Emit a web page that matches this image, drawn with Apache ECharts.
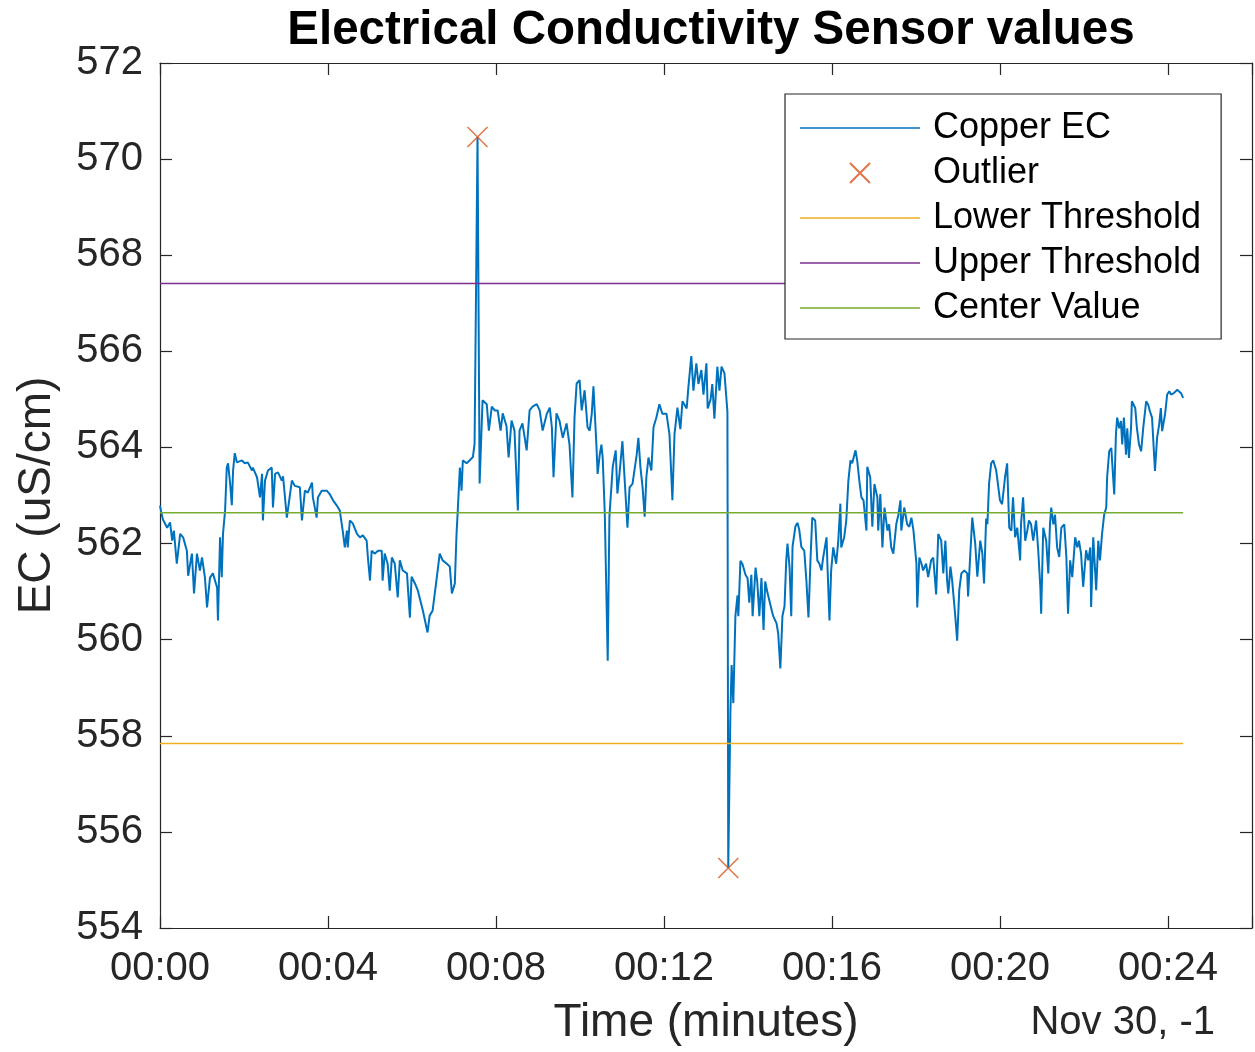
<!DOCTYPE html>
<html>
<head>
<meta charset="utf-8">
<script src="https://cdn.jsdelivr.net/npm/echarts@6/dist/echarts.min.js"></script>
<style>
html,body{margin:0;padding:0;background:#fff;}
#chart{width:1255px;height:1052px;}
</style>
</head>
<body>
<div id="chart"></div>
<script>
// ---- data (time in minutes, EC in uS/cm) ----
const times = [0.00,0.03,0.07,0.17,0.24,0.29,0.33,0.40,0.48,0.55,0.64,0.67,0.76,0.81,0.88,0.95,1.00,1.07,1.12,1.19,1.26,1.36,1.38,1.43,1.47,1.50,1.55,1.59,1.62,1.67,1.71,1.74,1.78,1.83,1.86,1.95,2.02,2.09,2.19,2.21,2.31,2.38,2.43,2.45,2.50,2.57,2.66,2.69,2.74,2.81,2.90,2.93,3.02,3.14,3.21,3.33,3.38,3.45,3.52,3.62,3.64,3.73,3.76,3.85,3.97,4.04,4.12,4.21,4.28,4.35,4.40,4.45,4.47,4.52,4.59,4.69,4.76,4.83,4.92,4.95,5.00,5.04,5.11,5.19,5.28,5.30,5.35,5.42,5.47,5.52,5.59,5.66,5.71,5.78,5.88,5.95,5.99,6.07,6.14,6.26,6.37,6.42,6.49,6.59,6.66,6.73,6.83,6.90,6.95,7.02,7.06,7.09,7.14,7.18,7.21,7.30,7.37,7.45,7.49,7.56,7.61,7.68,7.78,7.83,7.90,7.97,8.04,8.11,8.16,8.25,8.30,8.37,8.44,8.52,8.56,8.63,8.73,8.80,8.87,8.97,9.04,9.11,9.21,9.28,9.33,9.37,9.44,9.51,9.59,9.68,9.75,9.82,9.87,9.92,9.99,10.04,10.11,10.18,10.23,10.28,10.32,10.39,10.42,10.47,10.51,10.54,10.59,10.66,10.70,10.78,10.85,10.89,10.94,11.01,11.06,11.13,11.18,11.25,11.35,11.39,11.44,11.49,11.54,11.58,11.63,11.70,11.75,11.82,11.89,11.96,12.06,12.13,12.20,12.25,12.32,12.39,12.44,12.54,12.58,12.65,12.70,12.77,12.82,12.89,12.94,13.01,13.04,13.11,13.15,13.20,13.27,13.32,13.37,13.44,13.51,13.53,13.58,13.61,13.65,13.70,13.75,13.77,13.82,13.87,13.94,13.99,14.03,14.08,14.11,14.18,14.22,14.27,14.32,14.37,14.41,14.46,14.56,14.60,14.68,14.72,14.77,14.82,14.87,14.91,14.94,14.99,15.03,15.06,15.13,15.18,15.22,15.27,15.34,15.39,15.44,15.49,15.53,15.60,15.65,15.70,15.75,15.79,15.87,15.89,15.94,15.98,16.03,16.10,16.15,16.20,16.22,16.29,16.34,16.39,16.44,16.48,16.56,16.60,16.65,16.70,16.75,16.82,16.84,16.91,16.96,17.01,17.08,17.10,17.15,17.20,17.25,17.32,17.36,17.41,17.46,17.53,17.58,17.63,17.65,17.72,17.79,17.84,17.89,17.94,18.01,18.03,18.08,18.13,18.17,18.24,18.29,18.36,18.41,18.48,18.53,18.60,18.65,18.70,18.74,18.77,18.82,18.86,18.93,18.98,19.03,19.08,19.15,19.22,19.24,19.31,19.34,19.41,19.46,19.53,19.58,19.62,19.67,19.70,19.74,19.79,19.84,19.91,19.96,20.00,20.05,20.12,20.17,20.22,20.27,20.31,20.36,20.41,20.48,20.50,20.55,20.60,20.65,20.69,20.74,20.79,20.86,20.91,20.96,20.98,21.03,21.10,21.15,21.19,21.22,21.27,21.31,21.36,21.41,21.46,21.53,21.58,21.62,21.67,21.72,21.79,21.84,21.88,21.93,21.98,22.05,22.10,22.15,22.17,22.22,22.29,22.34,22.38,22.43,22.48,22.53,22.55,22.60,22.65,22.67,22.72,22.76,22.79,22.84,22.88,22.91,22.95,23.00,23.03,23.07,23.12,23.14,23.22,23.26,23.31,23.36,23.41,23.48,23.53,23.57,23.62,23.69,23.74,23.79,23.83,23.86,23.93,23.98,24.03,24.07,24.14,24.22,24.26,24.31,24.36];
const ecValues = [562.79,562.65,562.50,562.33,562.44,562.06,562.27,561.58,562.20,562.13,561.85,561.33,561.79,560.96,561.79,561.44,561.71,561.29,560.67,561.29,561.38,561.08,560.40,562.13,561.30,562.20,562.69,563.58,563.67,563.25,562.80,563.52,563.88,563.69,563.67,563.73,563.67,563.69,563.52,563.58,563.38,562.96,563.45,562.48,563.31,563.52,563.58,562.75,563.45,563.48,563.31,563.40,562.54,563.31,563.20,563.17,562.48,563.10,563.06,563.27,562.96,562.54,562.96,563.10,563.10,563.03,562.90,562.79,562.69,562.27,561.92,562.27,561.92,562.48,562.42,562.20,562.13,562.17,562.06,561.71,561.23,561.85,561.79,561.85,561.85,561.23,561.79,561.58,561.02,561.71,561.58,560.88,561.65,561.44,561.38,560.46,561.31,561.17,561.02,560.60,560.15,560.50,560.60,561.29,561.79,561.65,561.58,561.52,560.96,561.17,562.20,562.69,563.58,563.10,563.73,563.67,563.73,563.80,564.08,570.46,563.25,564.98,564.90,564.35,564.85,564.77,564.77,564.35,564.71,564.44,563.79,564.56,564.35,562.69,564.35,564.50,563.94,564.77,564.85,564.90,564.77,564.35,564.70,564.83,564.42,563.38,564.71,564.56,564.20,564.50,564.06,562.96,564.63,565.33,565.40,564.77,565.19,564.42,564.35,564.70,565.27,564.06,563.45,563.85,564.06,563.79,562.63,559.56,562.56,563.60,563.94,563.04,563.45,564.13,563.38,562.33,563.17,563.24,563.85,564.20,563.58,563.17,562.56,563.38,563.79,563.52,564.42,564.63,564.90,564.70,564.70,564.27,562.90,564.27,564.83,564.38,564.96,564.81,565.25,565.90,565.18,565.75,565.32,565.61,565.10,565.75,564.81,565.00,565.32,564.60,565.68,565.18,565.68,565.54,564.74,555.25,558.46,559.47,558.68,560.49,560.92,560.49,561.64,561.57,561.35,561.28,560.77,561.35,560.49,561.50,561.21,560.49,561.28,560.20,561.21,560.99,560.63,560.49,560.34,560.12,559.40,560.49,560.70,561.64,562.00,561.50,560.49,561.93,562.36,562.43,562.29,561.93,561.85,561.23,560.46,561.71,562.54,562.48,561.65,561.58,561.44,561.71,562.13,561.58,560.40,561.44,561.92,561.58,562.06,562.83,561.92,562.13,562.48,563.31,563.73,563.67,563.94,563.73,563.31,562.96,562.90,562.27,563.60,563.38,562.35,563.24,562.96,562.27,563.03,561.92,562.75,562.27,562.40,561.92,561.79,562.40,562.60,562.90,562.27,562.75,562.40,562.35,562.54,562.27,561.58,560.67,561.71,561.58,561.44,561.58,561.30,561.65,561.71,560.94,562.20,562.06,561.38,562.06,561.24,560.96,561.52,561.24,560.54,559.98,561.03,561.38,561.44,561.38,560.90,562.06,562.54,562.00,561.31,562.06,561.79,561.17,562.52,562.40,563.25,563.67,563.73,563.52,563.17,562.90,562.82,563.38,563.67,562.33,562.27,562.96,562.13,562.33,561.65,562.40,562.96,562.06,562.27,562.48,562.40,562.06,562.48,561.86,561.10,560.54,562.33,562.06,561.38,562.40,562.75,562.40,562.60,561.92,561.72,562.33,562.40,561.72,560.54,561.65,561.30,562.13,561.92,562.06,561.79,561.10,561.86,561.65,561.92,560.68,562.13,561.03,562.06,561.65,562.20,562.60,562.75,563.37,563.92,563.99,563.71,563.02,564.27,564.62,564.40,564.55,564.06,564.62,563.85,564.40,563.78,564.40,564.96,564.82,564.40,564.06,563.92,564.40,564.96,564.89,564.75,564.62,563.51,564.20,564.48,564.82,564.34,564.69,565.10,565.17,565.10,565.13,565.20,565.20,565.13,565.03];
const outlierTimes = [7.56, 13.53];
const outlierValues = [570.46, 555.25];
const lowerThreshold = 557.84;
const upperThreshold = 567.41;
const centerValue = 562.64;
const seriesNames = ['Copper EC','Outlier','Lower Threshold','Upper Threshold','Center Value'];
const xTickMinutes = [0,4,8,12,16,20,24];
const titleText = 'Electrical Conductivity Sensor values';
const xName = 'Time (minutes)';
const yName = 'EC (uS/cm)';
const dateLabel = 'Nov 30, -1';

// ---- build ----
const ecData = times.map((t,i)=>[t, ecValues[i]]);
const outData = outlierTimes.map((t,i)=>[t, outlierValues[i]]);
const tStart = times[0], tEnd = times[times.length-1];
const hLine = v => [[tStart, v],[tEnd, v]];

const FONT = '"Liberation Sans", Arial, Helvetica, sans-serif';
const AX = '#262626';
const pad2 = n => (n < 10 ? '0' : '') + n;
const xLabel = v => xTickMinutes.indexOf(v) >= 0 ? '00:' + pad2(v) : '';
const LINE_ICON = 'path://M0,0L120,0L120,1.4L0,1.4Z';
const X_ICON = 'path://M0,0L10,10M10,0L0,10';

const chart = echarts.init(document.getElementById('chart'), null, {renderer:'canvas'});
const xBase = {
  type:'value', min:0, max:26, interval:4,
  axisLine:{show:true, onZero:false, lineStyle:{color:AX, width:1.2}},
  axisTick:{show:true, inside:true, length:12, lineStyle:{color:AX, width:1.2}},
  splitLine:{show:false}
};
const yBase = {
  type:'value', min:554, max:572, interval:2,
  axisLine:{show:true, onZero:false, lineStyle:{color:AX, width:1.2}},
  axisTick:{show:true, inside:true, length:12, lineStyle:{color:AX, width:1.2}},
  splitLine:{show:false}
};
chart.setOption({
  animation:false,
  backgroundColor:'#ffffff',
  textStyle:{fontFamily:FONT},
  title:{
    text:titleText, left:706, top:2, textAlign:'center',
    textStyle:{fontFamily:FONT, fontWeight:'bold', fontSize:47.5, color:'#000'}
  },
  grid:{left:160, right:2, top:63, bottom:124, containLabel:false},
  xAxis:[
    Object.assign({}, xBase, {
      position:'bottom', name:xName, nameLocation:'middle', nameGap:72,
      nameTextStyle:{fontFamily:FONT, fontSize:46, color:AX},
      axisLabel:{show:true, margin:21, fontFamily:FONT, fontSize:40, color:AX, formatter:xLabel}
    }),
    Object.assign({}, xBase, {position:'top', axisLabel:{show:false}})
  ],
  yAxis:[
    Object.assign({}, yBase, {
      position:'left', name:yName, nameLocation:'middle', nameGap:100,
      nameTextStyle:{fontFamily:FONT, fontSize:46, color:AX},
      axisLabel:{show:true, margin:17, fontFamily:FONT, fontSize:40, color:AX}
    }),
    Object.assign({}, yBase, {position:'right', axisLabel:{show:false}})
  ],
  legend:{
    orient:'vertical', left:785, top:94,
    padding:[16,20,13,15],
    itemWidth:120, itemHeight:20, itemGap:9,
    borderColor:AX, borderWidth:1.2, backgroundColor:'#ffffff',
    textStyle:{fontFamily:FONT, fontSize:36, color:'#000', padding:[0,0,0,8]},
    data:[
      {name:seriesNames[0], icon:LINE_ICON},
      {name:seriesNames[1], icon:X_ICON},
      {name:seriesNames[2], icon:LINE_ICON},
      {name:seriesNames[3], icon:LINE_ICON},
      {name:seriesNames[4], icon:LINE_ICON}
    ]
  },
  graphic:[{
    type:'text', right:40, top:1003,
    style:{text:dateLabel, fontFamily:FONT, fontSize:40, fill:AX}
  }],
  series:[
    {name:seriesNames[0], type:'line', data:ecData, showSymbol:false, symbol:'none',
     lineStyle:{color:'#0072BD', width:2}, itemStyle:{color:'#0072BD'}, z:2},
    {name:seriesNames[1], type:'scatter', data:outData, symbol:X_ICON,
     symbolSize:20, itemStyle:{color:'rgba(0,0,0,0)', borderColor:'#D95319', borderWidth:1.5}, z:5},
    {name:seriesNames[2], type:'line', data:hLine(lowerThreshold), showSymbol:false, symbol:'none',
     lineStyle:{color:'#EDB120', width:1.5}, itemStyle:{color:'#EDB120'}, z:3},
    {name:seriesNames[3], type:'line', data:hLine(upperThreshold), showSymbol:false, symbol:'none',
     lineStyle:{color:'#7E2F8E', width:1.5}, itemStyle:{color:'#7E2F8E'}, z:3},
    {name:seriesNames[4], type:'line', data:hLine(centerValue), showSymbol:false, symbol:'none',
     lineStyle:{color:'#77AC30', width:1.5}, itemStyle:{color:'#77AC30'}, z:3}
  ]
});
</script>
</body>
</html>
